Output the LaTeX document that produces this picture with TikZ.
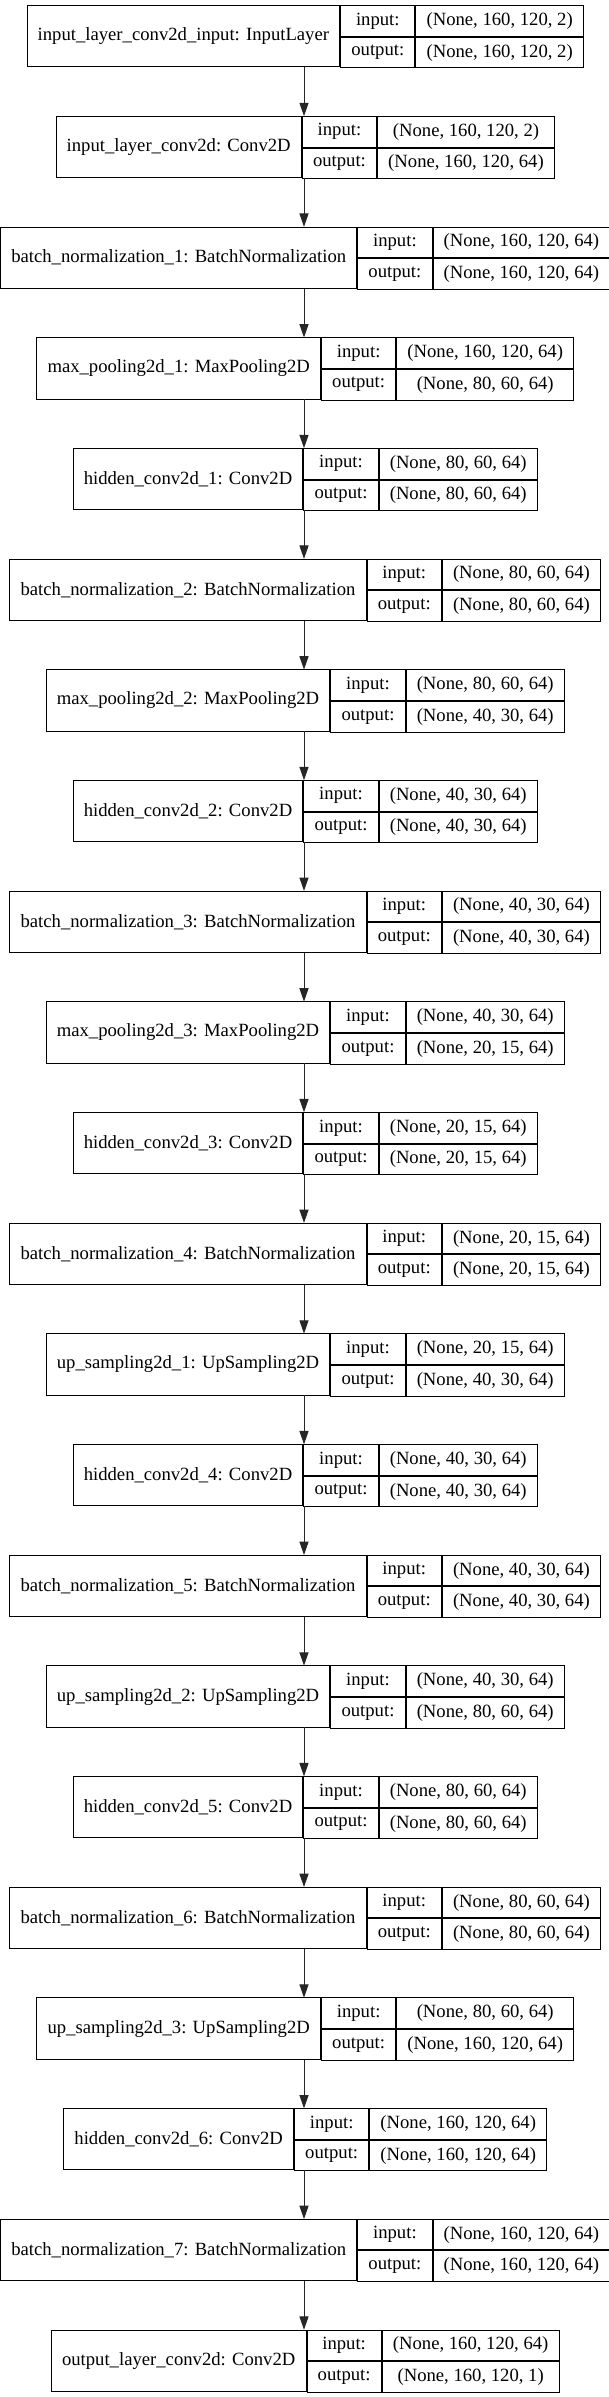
\documentclass[tikz,border=0pt]{standalone}
\usepackage{fontspec}
\setmainfont{Liberation Serif}
\usetikzlibrary{arrows.meta}
\newdimen\lbWa \newdimen\lbWb \newdimen\lbWc \newdimen\lbWt \newdimen\lbTmp
\newcommand\lfont{\fontsize{14pt}{16pt}\selectfont}
\tikzset{
  cell/.style={draw=black, line width=0.75pt, inner sep=0pt, font=\lfont, text=black},
  edge/.style={draw=black!85, line width=0.75pt, -{Triangle[length=10pt,width=6.8pt]}}
}
\newcommand\measure[4]{%
  \setbox0=\hbox{\lfont #2}\lbWa=\wd0\relax\advance\lbWa by 16pt\relax
  \setbox0=\hbox{\lfont output:}\lbWb=\wd0\relax\advance\lbWb by 16pt\relax
  \setbox0=\hbox{\lfont #3}\lbWc=\wd0\relax
  \setbox0=\hbox{\lfont #4}\lbTmp=\wd0\relax
  \ifdim\lbTmp>\lbWc\relax\lbWc=\lbTmp\relax\fi
  \advance\lbWc by 16pt\relax
  \lbWt=\lbWa\relax\advance\lbWt by \lbWb\relax\advance\lbWt by \lbWc\relax
  \expandafter\xdef\csname lbA#1\endcsname{\the\lbWa}%
  \expandafter\xdef\csname lbB#1\endcsname{\the\lbWb}%
  \expandafter\xdef\csname lbC#1\endcsname{\the\lbWc}%
  \expandafter\xdef\csname lbT#1\endcsname{\the\lbWt}%
}
\newcommand\layerbox[5]{%
  \pgfmathsetmacro\yc{-(5.7+110.68*#2+30.65)*0.75}%
  \node[inner sep=0pt, minimum width=\csname lbT#1\endcsname, minimum height=45.98pt] (#1) at (228pt,\yc pt) {};
  \node[cell, minimum width=\csname lbA#1\endcsname, minimum height=45.98pt, anchor=west] (#1-n) at (#1.west) {#3};
  \node[cell, minimum width=\csname lbB#1\endcsname, minimum height=22.99pt, anchor=north west] (#1-il) at (#1-n.north east) {input:};
  \node[cell, minimum width=\csname lbB#1\endcsname, minimum height=22.99pt, anchor=north west] (#1-ol) at (#1-il.south west) {output:};
  \node[cell, minimum width=\csname lbC#1\endcsname, minimum height=22.99pt, anchor=north west] (#1-iv) at (#1-il.north east) {#4};
  \node[cell, minimum width=\csname lbC#1\endcsname, minimum height=22.99pt, anchor=north west] (#1-ov) at (#1-iv.south west) {#5};
}
\newcommand\layerdata{%
\do{L0}{0}{input\_layer\_conv2d\_input: InputLayer}{(None, 160, 120, 2)}{(None, 160, 120, 2)}%
\do{L1}{1}{input\_layer\_conv2d: Conv2D}{(None, 160, 120, 2)}{(None, 160, 120, 64)}%
\do{L2}{2}{batch\_normalization\_1: BatchNormalization}{(None, 160, 120, 64)}{(None, 160, 120, 64)}%
\do{L3}{3}{max\_pooling2d\_1: MaxPooling2D}{(None, 160, 120, 64)}{(None, 80, 60, 64)}%
\do{L4}{4}{hidden\_conv2d\_1: Conv2D}{(None, 80, 60, 64)}{(None, 80, 60, 64)}%
\do{L5}{5}{batch\_normalization\_2: BatchNormalization}{(None, 80, 60, 64)}{(None, 80, 60, 64)}%
\do{L6}{6}{max\_pooling2d\_2: MaxPooling2D}{(None, 80, 60, 64)}{(None, 40, 30, 64)}%
\do{L7}{7}{hidden\_conv2d\_2: Conv2D}{(None, 40, 30, 64)}{(None, 40, 30, 64)}%
\do{L8}{8}{batch\_normalization\_3: BatchNormalization}{(None, 40, 30, 64)}{(None, 40, 30, 64)}%
\do{L9}{9}{max\_pooling2d\_3: MaxPooling2D}{(None, 40, 30, 64)}{(None, 20, 15, 64)}%
\do{L10}{10}{hidden\_conv2d\_3: Conv2D}{(None, 20, 15, 64)}{(None, 20, 15, 64)}%
\do{L11}{11}{batch\_normalization\_4: BatchNormalization}{(None, 20, 15, 64)}{(None, 20, 15, 64)}%
\do{L12}{12}{up\_sampling2d\_1: UpSampling2D}{(None, 20, 15, 64)}{(None, 40, 30, 64)}%
\do{L13}{13}{hidden\_conv2d\_4: Conv2D}{(None, 40, 30, 64)}{(None, 40, 30, 64)}%
\do{L14}{14}{batch\_normalization\_5: BatchNormalization}{(None, 40, 30, 64)}{(None, 40, 30, 64)}%
\do{L15}{15}{up\_sampling2d\_2: UpSampling2D}{(None, 40, 30, 64)}{(None, 80, 60, 64)}%
\do{L16}{16}{hidden\_conv2d\_5: Conv2D}{(None, 80, 60, 64)}{(None, 80, 60, 64)}%
\do{L17}{17}{batch\_normalization\_6: BatchNormalization}{(None, 80, 60, 64)}{(None, 80, 60, 64)}%
\do{L18}{18}{up\_sampling2d\_3: UpSampling2D}{(None, 80, 60, 64)}{(None, 160, 120, 64)}%
\do{L19}{19}{hidden\_conv2d\_6: Conv2D}{(None, 160, 120, 64)}{(None, 160, 120, 64)}%
\do{L20}{20}{batch\_normalization\_7: BatchNormalization}{(None, 160, 120, 64)}{(None, 160, 120, 64)}%
\do{L21}{21}{output\_layer\_conv2d: Conv2D}{(None, 160, 120, 64)}{(None, 160, 120, 1)}%
}
\newcommand\measureit[5]{\measure{#1}{#3}{#4}{#5}}
\begin{document}%
{\let\do\measureit\layerdata}%
\begin{tikzpicture}
\useasboundingbox (0,0) rectangle (456pt,-1797.75pt);
\fill[white] (0,0) rectangle (456pt,-1797.75pt);
\let\do\layerbox
\layerdata
\foreach \a/\b in {L0/L1,L1/L2,L2/L3,L3/L4,L4/L5,L5/L6,L6/L7,L7/L8,L8/L9,L9/L10,L10/L11,L11/L12,L12/L13,L13/L14,L14/L15,L15/L16,L16/L17,L17/L18,L18/L19,L19/L20,L20/L21}
  \draw[edge] (\a.south) -- (\b.north);
\end{tikzpicture}%
\end{document}
